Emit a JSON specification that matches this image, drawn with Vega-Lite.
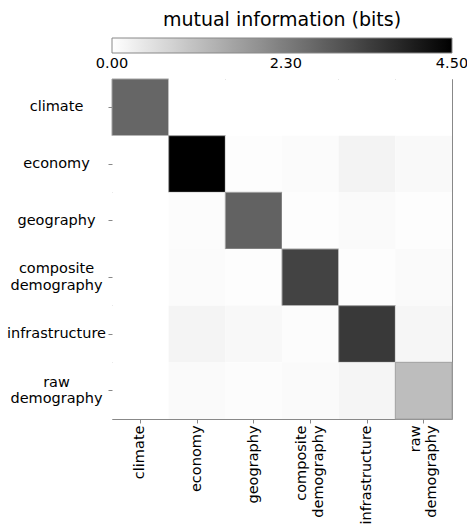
{
  "$schema": "https://vega.github.io/schema/vega-lite/v6.json",
  "width": 340,
  "height": 340,
  "autosize": {"type": "none"},
  "padding": {"left": 112, "top": 79, "right": 15, "bottom": 108},
  "config": {
    "font": "DejaVu Sans",
    "view": {"stroke": "#888888", "strokeWidth": 1},
    "axis": {
      "domain": false,
      "ticks": true,
      "tickColor": "#888888",
      "tickSize": 4,
      "labelColor": "#000000",
      "labelFontSize": 14.5,
      "labelLineHeight": 16.5,
      "grid": false,
      "title": null
    }
  },
  "data": {
    "values": [
      {"row": "climate", "col": "climate", "mi": 2.7},
      {"row": "climate", "col": "economy", "mi": 0},
      {"row": "climate", "col": "geography", "mi": 0},
      {"row": "climate", "col": "composite demography", "mi": 0},
      {"row": "climate", "col": "infrastructure", "mi": 0},
      {"row": "climate", "col": "raw demography", "mi": 0},
      {"row": "economy", "col": "climate", "mi": 0},
      {"row": "economy", "col": "economy", "mi": 4.5},
      {"row": "economy", "col": "geography", "mi": 0.04},
      {"row": "economy", "col": "composite demography", "mi": 0.07},
      {"row": "economy", "col": "infrastructure", "mi": 0.21},
      {"row": "economy", "col": "raw demography", "mi": 0.11},
      {"row": "geography", "col": "climate", "mi": 0},
      {"row": "geography", "col": "economy", "mi": 0.05},
      {"row": "geography", "col": "geography", "mi": 2.77},
      {"row": "geography", "col": "composite demography", "mi": 0.04},
      {"row": "geography", "col": "infrastructure", "mi": 0.09},
      {"row": "geography", "col": "raw demography", "mi": 0.04},
      {"row": "composite demography", "col": "climate", "mi": 0},
      {"row": "composite demography", "col": "economy", "mi": 0.07},
      {"row": "composite demography", "col": "geography", "mi": 0.04},
      {"row": "composite demography", "col": "composite demography", "mi": 3.32},
      {"row": "composite demography", "col": "infrastructure", "mi": 0.04},
      {"row": "composite demography", "col": "raw demography", "mi": 0.09},
      {"row": "infrastructure", "col": "climate", "mi": 0},
      {"row": "infrastructure", "col": "economy", "mi": 0.19},
      {"row": "infrastructure", "col": "geography", "mi": 0.12},
      {"row": "infrastructure", "col": "composite demography", "mi": 0.05},
      {"row": "infrastructure", "col": "infrastructure", "mi": 3.49},
      {"row": "infrastructure", "col": "raw demography", "mi": 0.16},
      {"row": "raw demography", "col": "climate", "mi": 0},
      {"row": "raw demography", "col": "economy", "mi": 0.09},
      {"row": "raw demography", "col": "geography", "mi": 0.05},
      {"row": "raw demography", "col": "composite demography", "mi": 0.09},
      {"row": "raw demography", "col": "infrastructure", "mi": 0.18},
      {"row": "raw demography", "col": "raw demography", "mi": 1.16}
    ]
  },
  "mark": {"type": "rect", "stroke": "#a0a0a0", "strokeWidth": 1},
  "encoding": {
    "x": {
      "field": "col",
      "type": "nominal",
      "sort": ["climate", "economy", "geography", "composite demography", "infrastructure", "raw demography"],
      "scale": {"paddingInner": 0, "paddingOuter": 0},
      "axis": {
        "labelAngle": -90,
        "labelAlign": "right",
        "labelBaseline": "middle",
        "labelPadding": 2,
        "labelOffset": {"condition": {"test": "indexof(datum.label, ' ') > 0", "value": -8}, "value": 0},
        "labelExpr": "datum.label == 'composite demography' ? ['composite\u00a0\u00a0', 'demography'] : datum.label == 'raw demography' ? ['raw\u00a0\u00a0\u00a0\u00a0\u00a0\u00a0\u00a0', 'demography'] : datum.label"
      }
    },
    "y": {
      "field": "row",
      "type": "nominal",
      "sort": ["climate", "economy", "geography", "composite demography", "infrastructure", "raw demography"],
      "scale": {"paddingInner": 0, "paddingOuter": 0},
      "axis": {
        "labelAlign": "center",
        "labelBaseline": "middle",
        "labelPadding": 52,
        "labelOffset": {"condition": {"test": "indexof(datum.label, ' ') > 0", "value": -8}, "value": 0},
        "labelExpr": "indexof(datum.label, ' ') > 0 ? split(datum.label, ' ') : datum.label"
      }
    },
    "color": {
      "field": "mi",
      "type": "quantitative",
      "scale": {"domain": [0, 4.5], "range": ["#ffffff", "#000000"], "interpolate": "rgb"},
      "legend": {
        "title": "mutual information (bits)",
        "orient": "top",
        "direction": "horizontal",
        "gradientLength": 340,
        "gradientThickness": 15,
        "gradientStrokeColor": "#888888",
        "gradientStrokeWidth": 1,
        "values": [0, 2.3, 4.5],
        "format": ".2f",
        "labelAlign": "center",
        "labelFontSize": 14.5,
        "labelColor": "#000000",
        "labelOffset": 4,
        "titleFontSize": 19,
        "titleFontWeight": "normal",
        "titleColor": "#000000",
        "titleAnchor": "middle",
        "titleLimit": 500,
        "titlePadding": 8,
        "offset": 8,
        "encode": {
          "labels": {"update": {"align": {"value": "center"}}}
        }
      }
    },
    "strokeOpacity": {
      "condition": {"test": "datum.row === datum.col", "value": 1},
      "value": 0
    }
  }
}
